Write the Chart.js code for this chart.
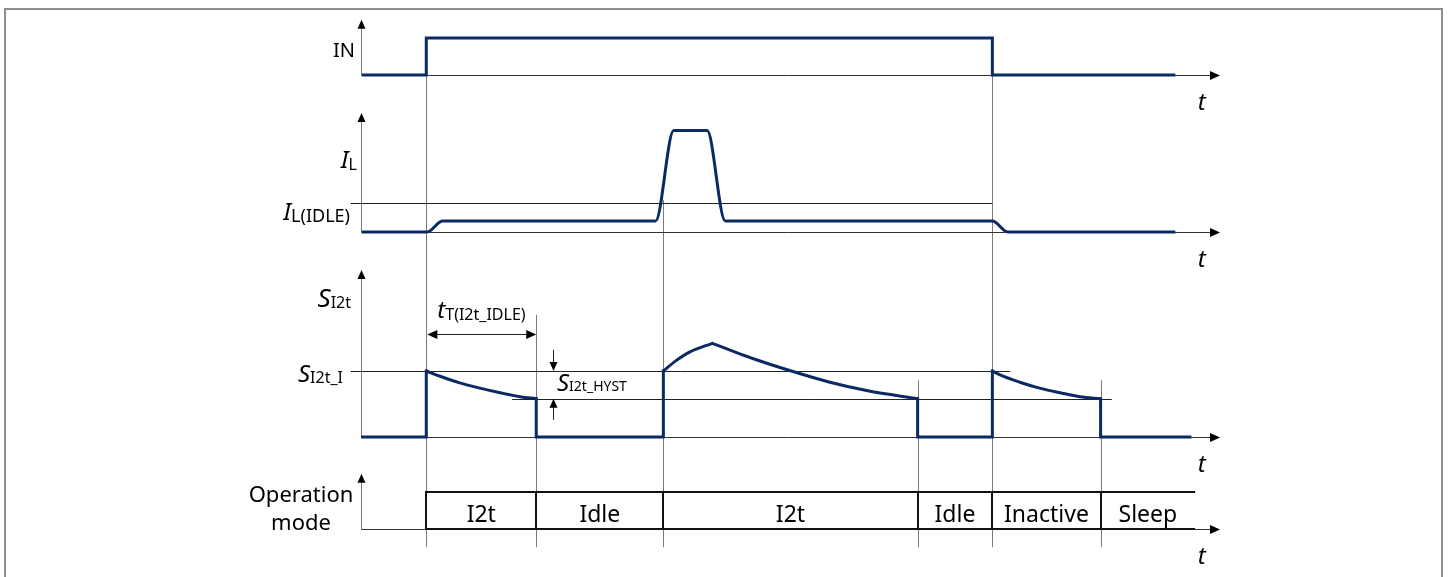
<!DOCTYPE html>
<html>
<head>
<meta charset="utf-8">
<script src="https://cdn.jsdelivr.net/npm/chart.js@4.4.1/dist/chart.umd.min.js"></script>
<style>
	body { margin: 0; background: #fff; }
	canvas { display: block; }
</style>
</head>
<body>
<canvas id="timing" width="1450" height="577"></canvas>
<script>
// time axis, arbitrary units 0..100
const timeRange = [0, 100]

// IN signal
const inTime = [0.1, 7.6, 7.6, 73.5, 73.5, 94.8]
const inLevel = [0, 0, 1, 1, 0, 0]

// load current I_L (units of I_L(IDLE))
const ilTime = [0.1, 7.7, 9.5, 34.3, 36.4, 40.3, 42.4, 73.5, 75.3, 94.8]
const ilLevel = [0, 0, 0.38, 0.38, 3.5, 3.5, 0.38, 0.38, 0, 0]
const ilIdle = 1

// S_I2t (units of S_I2t_I)
const sTime = [0.1, 7.6, 7.6, 9.2, 11.5, 13.85, 16.2, 18.5, 20.4, 20.4, 35.2, 35.2, 36.6, 38.3, 40.9, 43.5, 45.6, 50.1, 54.6, 59.0, 64.8, 64.8, 73.5, 73.5, 74.4, 76.7, 79.0, 81.4, 83.7, 86.1, 86.1, 96.5]
const sLevel = [0, 0, 1.0, 0.92, 0.82, 0.74, 0.67, 0.61, 0.58, 0, 0, 1.0, 1.15, 1.29, 1.42, 1.29, 1.19, 1.0, 0.83, 0.7, 0.58, 0, 0, 1.0, 0.94, 0.83, 0.74, 0.67, 0.61, 0.58, 0, 0]
const sI2tI = 1
const sHyst = 0.58

// operation modes
const modeEdges = [7.6, 20.4, 35.2, 64.8, 73.5, 86.1, 97.1]
const modeNames = ['I2t', 'Idle', 'I2t', 'Idle', 'Inactive', 'Sleep']

// layout (pixels)
const W = 1450
const H = 577
const panels = {
	yIn: { base: 75, unit: 37, top: 1.49 },
	yIl: { base: 232, unit: 29, top: 4.1 },
	yS: { base: 437, unit: 66, top: 2.53 },
	yOp: { base: 529, unit: 37, top: 1.49 },
}
// vertical marker lines: time, panel where they start, level where they start
const markers = [
	[modeEdges[0], 'yIn', 0],
	[modeEdges[1], 'yS', 1.85],
	[modeEdges[2], 'yIl', 1.1],
	[modeEdges[3], 'yS', 0.86],
	[modeEdges[4], 'yIn', 0],
	[modeEdges[5], 'yS', 0.86],
]

const navy = '#0b2a63'
const grey = '#7a7a7a'
const fam = '"Noto Sans", "Open Sans", sans-serif'

function pts(ts, vs) {
	return ts.map((t, i) => ({ x: t, y: vs[i] }))
}

function isCurved(x0, y0, x1, y1) {
	return x0 !== x1 && y0 !== y1
}

// curved stretches of a trace, split at edges and at turning points
function curvePieces(ts, vs) {
	let out = []
	let last = -1
	let lastDir = 0
	for (let i = 0; i < ts.length - 1; i++) {
		if (!isCurved(ts[i], vs[i], ts[i + 1], vs[i + 1])) continue
		let dir = Math.sign(vs[i + 1] - vs[i])
		if (last !== i || dir !== lastDir) {
			if (out.length) out.push({ x: ts[i], y: null })
			out.push({ x: ts[i], y: vs[i] })
		}
		out.push({ x: ts[i + 1], y: vs[i + 1] })
		last = i + 1
		lastDir = dir
	}
	return out
}

function panelScale(p) {
	return {
		type: 'linear',
		display: false,
		min: -(H - p.base) / p.unit,
		max: p.base / p.unit,
	}
}

function head(ctx, x, y, dx, dy, len, half) {
	let bx = x - dx * len
	let by = y - dy * len
	ctx.beginPath()
	ctx.moveTo(x, y)
	ctx.lineTo(bx - dy * half, by + dx * half)
	ctx.lineTo(bx + dy * half, by - dx * half)
	ctx.closePath()
	ctx.fill()
}

function line(ctx, x1, y1, x2, y2) {
	ctx.beginPath()
	ctx.moveTo(x1, y1)
	ctx.lineTo(x2, y2)
	ctx.stroke()
}

function richText(ctx, parts, x, y, align) {
	let w = 0
	parts.forEach(p => {
		ctx.font = p[1]
		w += ctx.measureText(p[0]).width
	})
	let cx = align === 'right' ? x - w : align === 'center' ? x - w / 2 : x
	parts.forEach(p => {
		ctx.font = p[1]
		ctx.fillText(p[0], cx, y + (p[2] || 0))
		cx += ctx.measureText(p[0]).width
	})
}

const decor = {
	id: 'decor',
	beforeDatasetsDraw(chart) {
		const ctx = chart.ctx
		const X = t => chart.scales.x.getPixelForValue(t)
		const Y = (id, v) => chart.scales[id].getPixelForValue(v)
		ctx.save()

		// frame
		ctx.strokeStyle = '#8f8f8f'
		ctx.lineWidth = 2
		ctx.strokeRect(5, 9, 1437, 580)

		// marker lines
		ctx.strokeStyle = grey
		ctx.lineWidth = 1
		markers.forEach(m => {
			let x = Math.round(X(m[0])) + 0.5
			line(ctx, x, Y(m[1], m[2]), x, Y('yOp', -0.49))
		})

		// axes
		ctx.fillStyle = '#000'
		Object.keys(panels).forEach(id => {
			let p = panels[id]
			let x0 = Math.round(X(timeRange[0])) + 0.5
			let y0 = Math.round(Y(id, 0)) + 0.5
			ctx.strokeStyle = grey
			line(ctx, x0, y0, x0, Y(id, p.top) + 4)
			head(ctx, x0, Y(id, p.top), 0, -1, 9, 4)
			ctx.strokeStyle = '#333'
			line(ctx, x0, y0, X(timeRange[1]) - 4, y0)
			head(ctx, X(timeRange[1]), y0, 1, 0, 10, 4.5)
		})

		// threshold lines
		ctx.strokeStyle = '#222'
		let yi = Math.round(Y('yIl', ilIdle)) + 0.5
		line(ctx, X(-1.2), yi, X(modeEdges[4]), yi)
		let ys = Math.round(Y('yS', sI2tI)) + 0.5
		line(ctx, X(-1.2), ys, X(75.6), ys)
		let yh = Math.round(Y('yS', sHyst)) + 0.5
		line(ctx, X(17.6), yh, X(87.4), yh)

		// t_T(I2t_IDLE) dimension arrow
		let ya = Math.round(Y('yS', 1.56)) + 0.5
		line(ctx, X(modeEdges[0]) + 4, ya, X(modeEdges[1]) - 4, ya)
		head(ctx, X(modeEdges[0]) + 1, ya, -1, 0, 10, 4.5)
		head(ctx, X(modeEdges[1]), ya, 1, 0, 10, 4.5)

		// S_I2t_HYST arrows
		let xh = Math.round(X(22.35)) + 0.5
		line(ctx, xh, Y('yS', 1.32), xh, Y('yS', sI2tI) - 4)
		head(ctx, xh, Y('yS', sI2tI), 0, 1, 9, 4)
		line(ctx, xh, Y('yS', 0.26), xh, Y('yS', sHyst) + 4)
		head(ctx, xh, Y('yS', sHyst), 0, -1, 9, 4)

		// operation mode box
		ctx.strokeStyle = '#111'
		ctx.lineWidth = 2
		let yt = Math.round(Y('yOp', 1))
		let yb = Math.round(Y('yOp', 0))
		line(ctx, X(modeEdges[0]), yt, X(modeEdges[modeEdges.length - 1]), yt)
		line(ctx, X(modeEdges[0]), yb, X(modeEdges[modeEdges.length - 1]), yb)
		for (let i = 0; i < modeEdges.length - 1; i++) {
			let x = Math.round(X(modeEdges[i]))
			line(ctx, x, yt - 1, x, yb + 1)
		}
		ctx.restore()
	},
	afterDatasetsDraw(chart) {
		const ctx = chart.ctx
		const X = t => chart.scales.x.getPixelForValue(t)
		const Y = (id, v) => chart.scales[id].getPixelForValue(v)
		const ax = X(timeRange[0])
		ctx.save()
		ctx.fillStyle = '#000'
		ctx.textBaseline = 'alphabetic'

		const big = 'italic 24px ' + fam
		const sub = '16px ' + fam
		const plain = '20px ' + fam

		richText(ctx, [['IN', plain]], ax - 6, Y('yIn', 0.5), 'right')
		richText(ctx, [['I', big], ['L', sub, 2]], ax - 4, Y('yIl', 2.2), 'right')
		richText(ctx, [['I', big], ['L(IDLE)', '18px ' + fam, 2]], ax - 11, Y('yIl', 0.4), 'right')
		richText(ctx, [['S', 'italic 26px ' + fam], ['I2t', sub, 1]], ax - 10, Y('yS', 1.97), 'right')
		richText(ctx, [['S', big], ['I2t_I', sub, 1]], ax - 18, Y('yS', 0.84), 'right')

		richText(ctx, [['t', 'italic 24px ' + fam], ['T(I2t_IDLE)', sub, 2]], X(modeEdges[0]) + 11, Y('yS', 1.8), 'left')
		richText(ctx, [['S', big], ['I2t_HYST', '14px ' + fam, 0]], X(22.35) + 4, Y('yS', 0.69), 'left')

		richText(ctx, [['Operation', '22px ' + fam]], 301, Y('yOp', 0.73), 'center')
		richText(ctx, [['mode', '22px ' + fam]], 301, Y('yOp', -0.03), 'center')

		for (let i = 0; i < modeNames.length; i++) {
			let c = (X(modeEdges[i]) + X(modeEdges[i + 1])) / 2
			richText(ctx, [[modeNames[i], '23px ' + fam]], c, Y('yOp', 0.2), 'center')
		}

		Object.keys(panels).forEach(id => {
			richText(ctx, [['t', 'italic 24px ' + fam]], X(97.4), Y(id, 0) + 35, 'left')
		})
		ctx.restore()
	},
}

const common = {
	borderColor: navy,
	borderWidth: 3,
	pointRadius: 0,
	fill: false,
	borderJoinStyle: 'miter',
}

new Chart(document.getElementById('timing'), {
	type: 'line',
	data: {
		datasets: [
			Object.assign({ data: pts(inTime, inLevel), yAxisID: 'yIn', tension: 0 }, common),
			Object.assign({ data: pts(ilTime, ilLevel), yAxisID: 'yIl', cubicInterpolationMode: 'monotone' }, common),
			// S_I2t edges and flat parts
			Object.assign({}, common, {
				data: pts(sTime, sLevel),
				yAxisID: 'yS',
				tension: 0,
				borderCapStyle: 'square',
				segment: {
					borderColor: c => (isCurved(c.p0.parsed.x, c.p0.parsed.y, c.p1.parsed.x, c.p1.parsed.y) ? 'rgba(0,0,0,0)' : navy),
				},
			}),
			// S_I2t charge / discharge curves
			Object.assign({}, common, {
				data: curvePieces(sTime, sLevel),
				yAxisID: 'yS',
				cubicInterpolationMode: 'monotone',
				spanGaps: false,
				borderCapStyle: 'round',
			}),
		],
	},
	options: {
		responsive: false,
		animation: false,
		events: [],
		layout: {
			padding: { left: 361, right: W - 1220, top: 0, bottom: 0 },
		},
		scales: {
			x: { type: 'linear', display: false, min: timeRange[0], max: timeRange[1] },
			yIn: panelScale(panels.yIn),
			yIl: panelScale(panels.yIl),
			yS: panelScale(panels.yS),
			yOp: panelScale(panels.yOp),
		},
		plugins: {
			legend: { display: false },
			tooltip: { enabled: false },
		},
	},
	plugins: [decor],
})
</script>
</body>
</html>
